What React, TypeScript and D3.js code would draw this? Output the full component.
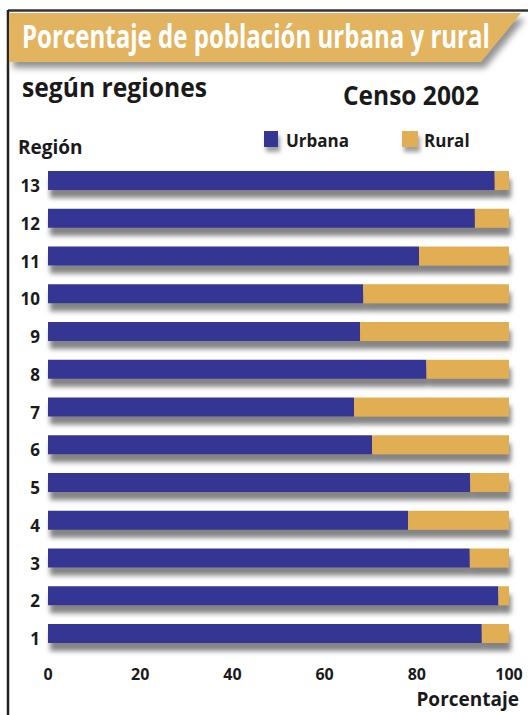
import React, { useLayoutEffect, useRef, useState } from "react";
import * as d3 from "d3";

const regions = ["13", "12", "11", "10", "9", "8", "7", "6", "5", "4", "3", "2", "1"];
const urbana = [96.9, 92.6, 80.5, 68.4, 67.7, 82.1, 66.4, 70.3, 91.6, 78.1, 91.5, 97.7, 94.1];
const rural = urbana.map((u) => +(100 - u).toFixed(1));
const xTicks = [0, 20, 40, 60, 80, 100];

const BLUE = "#343693";
const TAN = "#e1ae52";
const FONT = "'Open Sans', 'DejaVu Sans', sans-serif";

function FitText(props: {
  x: number;
  y: number;
  width: number;
  fontSize: number;
  fill: string;
  children: string;
}) {
  const ref = useRef<SVGTextElement>(null);
  const [sx, setSx] = useState(1);
  useLayoutEffect(() => {
    if (ref.current) {
      const w = ref.current.getComputedTextLength();
      if (w > 0) setSx(props.width / w);
    }
  }, [props.width, props.children]);
  return (
    <g transform={`translate(${props.x},${props.y}) scale(${sx},1)`}>
      <text ref={ref} x={0} y={0} fontSize={props.fontSize} fontWeight={700} fill={props.fill}>
        {props.children}
      </text>
    </g>
  );
}

export default function App() {
  const x = d3.scaleLinear().domain([0, 100]).range([48, 509]);
  const y = d3.scalePoint<string>().domain(regions).range([180.5, 633.5]);
  const bh = 19;

  return (
    <svg
      width={528}
      height={715}
      style={{ position: "absolute", left: 0, top: 0, background: "#fff" }}
      fontFamily={FONT}
    >
      <defs>
        <filter id="sh" x="-10%" y="-50%" width="120%" height="250%">
          <feDropShadow dx="2" dy="8" stdDeviation="2.6" floodColor="#6e6e6e" floodOpacity="0.85" />
        </filter>
        <filter id="bsh" x="-10%" y="-50%" width="120%" height="200%">
          <feDropShadow dx="4" dy="6" stdDeviation="3" floodColor="#777" floodOpacity="0.8" />
        </filter>
        <filter id="lsh" x="-50%" y="-50%" width="250%" height="250%">
          <feDropShadow dx="2" dy="5" stdDeviation="2" floodColor="#777" floodOpacity="0.7" />
        </filter>
      </defs>

      {/* frame */}
      <line x1={8} x2={528} y1={10.5} y2={10.5} stroke="#333" strokeWidth={2.5} />
      <line x1={8} x2={8} y1={10} y2={715} stroke="#222" strokeWidth={2.5} />

      {/* title banner */}
      <path d="M9,13 L521,13 L481,62 L9,62 Z" fill="#e3b461" filter="url(#bsh)" />
      <FitText x={22} y={48} width={468} fontSize={32} fill="#fff">
        Porcentaje de población urbana y rural
      </FitText>

      <FitText x={22} y={97} width={185} fontSize={26} fill="#1a1a1a">
        según regiones
      </FitText>
      <FitText x={343} y={105} width={136} fontSize={27} fill="#1a1a1a">
        Censo 2002
      </FitText>

      <text x={18} y={154} fontSize={19} fontWeight={700} fill="#1a1a1a">
        Región
      </text>

      {/* legend */}
      <rect x={264} y={131} width={14} height={16} fill={BLUE} filter="url(#lsh)" />
      <text x={286} y={147} fontSize={17} fontWeight={700} fill="#1a1a1a">
        Urbana
      </text>
      <rect x={402} y={131} width={16} height={16} fill={TAN} filter="url(#lsh)" />
      <text x={424} y={147} fontSize={17} fontWeight={700} fill="#1a1a1a">
        Rural
      </text>

      {/* bars */}
      {regions.map((r, i) => {
        const cy = y(r)!;
        return (
          <g key={r}>
            <g filter="url(#sh)">
              <rect x={x(0)} y={cy - bh / 2} width={x(urbana[i]) - x(0)} height={bh} fill={BLUE} />
              <rect x={x(urbana[i])} y={cy - bh / 2} width={x(urbana[i] + rural[i]) - x(urbana[i])} height={bh} fill={TAN} />
            </g>
            <text x={40} y={cy + 11.5} textAnchor="end" fontSize={17} fontWeight={700} fill="#1a1a1a">
              {r}
            </text>
          </g>
        );
      })}

      {/* x ticks */}
      {xTicks.map((t) => (
        <text key={t} x={x(t)} y={680} textAnchor="middle" fontSize={16} fontWeight={700} fill="#1a1a1a">
          {t}
        </text>
      ))}
      <text x={519} y={706} textAnchor="end" fontSize={19} fontWeight={700} fill="#1a1a1a">
        Porcentaje
      </text>
    </svg>
  );
}
